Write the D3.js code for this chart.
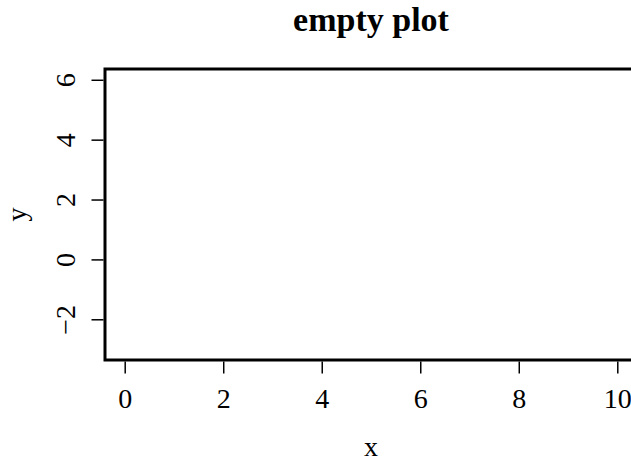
<!DOCTYPE html>
<html lang="en">
<head>
<meta charset="utf-8">
<title>empty plot</title>
<script src="https://d3js.org/d3.v7.min.js"></script>
<style>
  body { margin: 0; background: #fff; }
  text { font-family: "Liberation Serif", "DejaVu Serif", serif; fill: #000; }
</style>
</head>
<body>
<script>
// data range of the (empty) plot and its tick labels
const xRange = [0, 10];
const yRange = [-3, 6];
const xTicks = [0, 2, 4, 6, 8, 10];
const yTicks = [-2, 0, 2, 4, 6];
const title = "empty plot";
const xLabel = "x";
const yLabel = "y";

const width = 631, height = 461;
const margin = {top: 69, right: -6, bottom: 101, left: 105};

// R pads the axis range by 4% on each side
const pad = (r) => { const d = (r[1] - r[0]) * 0.04; return [r[0] - d, r[1] + d]; };

const svg = d3.select("body").append("svg")
  .attr("width", width)
  .attr("height", height);

const xScale = d3.scaleLinear()
  .domain(pad(xRange))
  .range([margin.left, width - margin.right]);

const yScale = d3.scaleLinear()
  .domain(pad(yRange))
  .range([height - margin.bottom, margin.top]);

// plot frame
svg.append("rect")
  .attr("x", margin.left)
  .attr("y", margin.top)
  .attr("width", width - margin.right - margin.left)
  .attr("height", height - margin.bottom - margin.top)
  .attr("fill", "none")
  .attr("stroke", "#000")
  .attr("stroke-width", 3);

// x axis
const xAxis = d3.axisBottom(xScale)
  .tickValues(xTicks)
  .tickSize(12)
  .tickPadding(15)
  .tickFormat(d3.format("d"));

const gx = svg.append("g")
  .attr("transform", "translate(0," + (height - margin.bottom + 1.5) + ")")
  .call(xAxis);
gx.select(".domain").remove();
gx.selectAll(".tick line").attr("stroke-width", 1.5);
gx.selectAll(".tick text")
  .attr("font-size", 28)
  .attr("font-family", null);

// y axis, labels parallel to the axis
const yAxis = d3.axisLeft(yScale)
  .tickValues(yTicks)
  .tickSize(12)
  .tickFormat((d) => d < 0 ? "\u2212" + Math.abs(d) : d);

const gy = svg.append("g")
  .attr("transform", "translate(" + (margin.left - 1.5) + ",0)")
  .call(yAxis);
gy.select(".domain").remove();
gy.selectAll(".tick line").attr("stroke-width", 1.5);
gy.selectAll(".tick text")
  .attr("font-size", 28)
  .attr("font-family", null)
  .attr("x", null)
  .attr("dy", null)
  .attr("text-anchor", "middle")
  .attr("transform", "translate(-29,0) rotate(-90)");

// title and axis labels
svg.append("text")
  .attr("x", (margin.left + width - margin.right) / 2)
  .attr("y", 31)
  .attr("text-anchor", "middle")
  .attr("font-size", 34)
  .attr("font-weight", "bold")
  .text(title);

svg.append("text")
  .attr("x", (margin.left + width - margin.right) / 2)
  .attr("y", 456)
  .attr("text-anchor", "middle")
  .attr("font-size", 28)
  .text(xLabel);

svg.append("text")
  .attr("transform", "translate(26," + (margin.top + height - margin.bottom) / 2 + ") rotate(-90)")
  .attr("text-anchor", "middle")
  .attr("font-size", 28)
  .text(yLabel);
</script>
</body>
</html>
